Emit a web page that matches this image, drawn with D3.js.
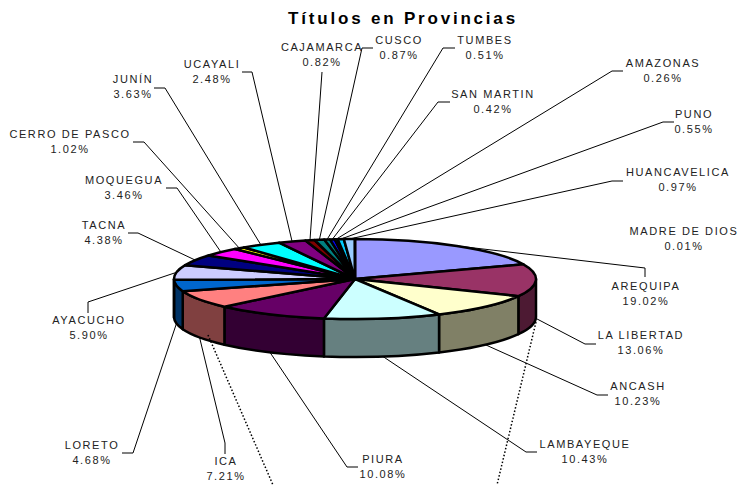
<!DOCTYPE html>
<html lang="en">
<head>
<meta charset="utf-8">
<title>Títulos en Provincias</title>
<script src="https://d3js.org/d3.v7.min.js"></script>
<style>
body{margin:0;background:#fff;}
svg{display:block;}
text{font-family:"Liberation Sans",Arial,sans-serif;fill:#222;}
.lbl{font-size:11px;letter-spacing:1.6px;text-anchor:middle;}
.title{font-size:17px;font-weight:bold;letter-spacing:2.8px;text-anchor:middle;fill:#000;}
</style>
</head>
<body>
<div id="chart"></div>
<script>
// clockwise from 12 o'clock
var provincias = ["AREQUIPA","LA LIBERTAD","ANCASH","LAMBAYEQUE","PIURA","ICA","LORETO","AYACUCHO","TACNA","MOQUEGUA","CERRO DE PASCO","JUNÍN","UCAYALI","CAJAMARCA","CUSCO","TUMBES","SAN MARTIN","AMAZONAS","PUNO","HUANCAVELICA","MADRE DE DIOS"]
var valores = [19.02,13.06,10.23,10.43,10.08,7.21,4.68,5.90,4.38,3.46,1.02,3.63,2.48,0.82,0.87,0.51,0.42,0.26,0.55,0.97,0.01]
var colores = ["#9999FF","#993366","#FFFFCC","#CCFFFF","#660066","#FF8080","#0066CC","#CCCCFF","#000080","#FF00FF","#FFFF00","#00FFFF","#800080","#800000","#008080","#008080","#0000FF","#00CCFF","#00CCFF","#99CCFF","#99CCFF"]

// label layout, hand placed: text centre, name y, then leader elbow and end
var labelX = [646,641,638,585,383,226,92,89,104,124,70,133,212,322,399,485,493,663,694,678,684]
var labelY = [290,339,390,448,463,465,449,324,229,184,138,83,68,51,44,44,98,67,118,176,235]
var elbows = [[645,268],[585,344],[597,395],[526,452],[347,467],[225,443],[133,453],[88,302],[138,233],[177,188],[144,142],[165,88],[252,72],[322,72],[362,48],[443,48],[438,102],[612,71],[663,122],[612,181],null]
var ends = [[645,277],[596,344],[608,395],[537,452],[358,467],[225,454],[122,453],[88,313],[128,233],[166,188],[133,142],[154,88],[242,72],[322,72],[373,48],[455,48],[450,102],[623,71],[674,122],[623,181],null]

var width = 738, height = 485
var cx = 355, cy = 279, rx = 181, ry = 40, depth = 38

var svg = d3.select("#chart").append("svg").attr("width",width).attr("height",height)

var x = d3.scaleLinear().domain([-1,1]).range([cx-rx,cx+rx])
var y = d3.scaleLinear().domain([-1,1]).range([cy-ry,cy+ry])

var pie = d3.pie().sort(null).value(function(d){return d})
var slices = pie(valores)

function px(a){return x(Math.sin(a))}
function py(a){return y(-Math.cos(a))}

function topPath(d){
    var large = d.endAngle-d.startAngle>Math.PI ? 1 : 0
    return "M"+cx+","+cy+"L"+px(d.startAngle)+","+py(d.startAngle)+
        "A"+rx+","+ry+" 0 "+large+" 1 "+px(d.endAngle)+","+py(d.endAngle)+"Z"
}

// only the part of the rim between 90 and 270 degrees faces us
function sidePath(d){
    var a0 = Math.max(d.startAngle,Math.PI/2), a1 = Math.min(d.endAngle,Math.PI*1.5)
    if(a1<=a0) return null
    return "M"+px(a0)+","+py(a0)+"A"+rx+","+ry+" 0 0 1 "+px(a1)+","+py(a1)+
        "L"+px(a1)+","+(py(a1)+depth)+"A"+rx+","+ry+" 0 0 0 "+px(a0)+","+(py(a0)+depth)+"Z"
}

function half(c){
    var r = d3.rgb(c)
    return d3.rgb(r.r/2,r.g/2,r.b/2).formatHex()
}

// leaders go under the pie, front ones start from the bottom of the rim
var lineGen = d3.line()
slices.forEach(function(d,i){
    if(!elbows[i]) return
    var mid = (d.startAngle+d.endAngle)/2
    var front = Math.cos(mid)<0
    var start = [px(mid),py(mid)+(front?depth:0)]
    svg.append("path")
        .attr("d",lineGen([start,elbows[i],ends[i]]))
        .attr("fill","none")
        .attr("stroke","#000")
        .attr("stroke-width",1)
})

svg.selectAll(".side").data(slices).enter()
    .filter(function(d){return sidePath(d)!=null})
    .append("path")
    .attr("class","side")
    .attr("d",sidePath)
    .attr("fill",function(d){return half(colores[d.index])})
    .attr("stroke","#000")
    .attr("stroke-width",2.5)
    .attr("stroke-linejoin","round")

svg.selectAll(".top").data(slices).enter().append("path")
    .attr("class","top")
    .attr("d",topPath)
    .attr("fill",function(d){return colores[d.index]})
    .attr("stroke","#000")
    .attr("stroke-width",2.5)
    .attr("stroke-linejoin","round")

// the two dotted lines running off the bottom
var dotted = [[[208,335],[273,485]],[[536,322],[497,485]]]
dotted.forEach(function(p){
    svg.append("path").attr("d",lineGen(p))
        .attr("stroke","#000").attr("stroke-width",1.5)
        .attr("stroke-dasharray","1.5,2").attr("fill","none")
})

svg.append("text").attr("class","title").attr("x",403).attr("y",24).text("Títulos en Provincias")

provincias.forEach(function(name,i){
    svg.append("text").attr("class","lbl").attr("x",labelX[i]).attr("y",labelY[i]).text(name)
    svg.append("text").attr("class","lbl").attr("x",labelX[i]).attr("y",labelY[i]+15).text(valores[i].toFixed(2)+"%")
})
</script>
</body>
</html>
